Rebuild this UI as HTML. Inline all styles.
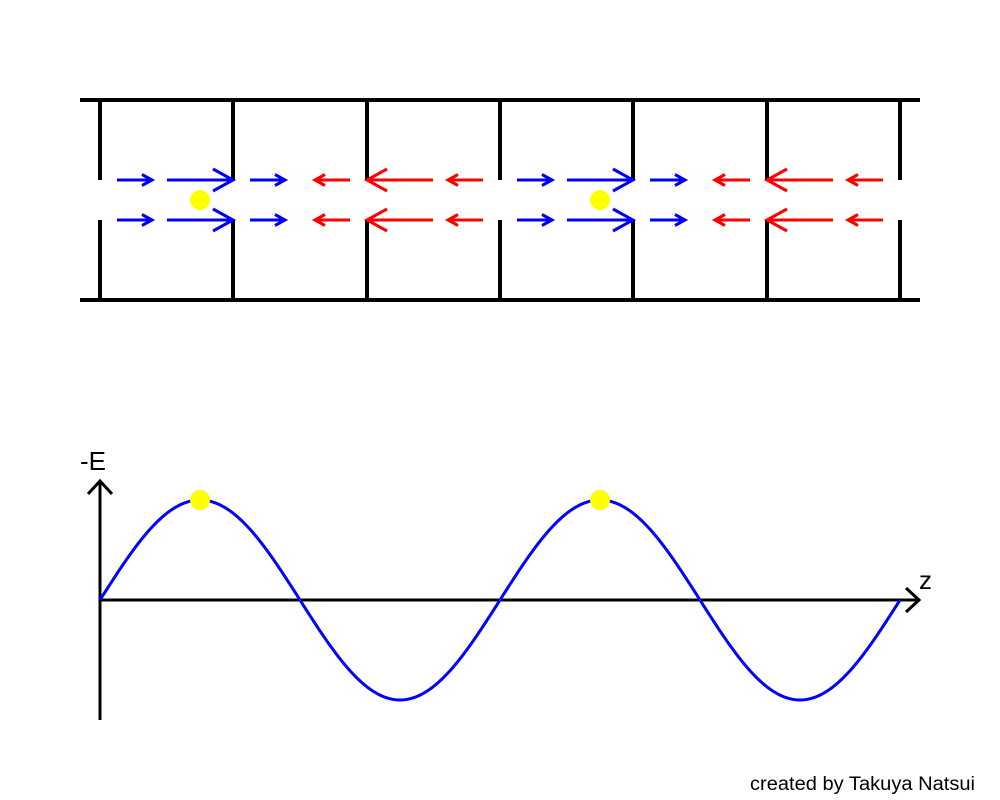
<!DOCTYPE html>
<html><head><meta charset="utf-8"><style>html,body{margin:0;padding:0;background:#fff}svg{display:block}</style></head>
<body>
<svg id="s" width="1000" height="800" xmlns="http://www.w3.org/2000/svg" font-family="Liberation Sans, sans-serif">
<g stroke="#000" stroke-width="4" fill="none">
<line x1="80" y1="100" x2="920" y2="100"/>
<line x1="80" y1="300" x2="920" y2="300"/>
<g id="walls"></g>
</g>
<g id="arrows" stroke-width="3" fill="none"></g>
<circle cx="200" cy="200" r="10" fill="#ffff00"/>
<circle cx="600" cy="200" r="10" fill="#ffff00"/>
<g stroke="#000" stroke-width="3" fill="none">
<line x1="100" y1="720" x2="100" y2="482"/>
<polyline points="88,494 100,481 112,494"/>
<line x1="100" y1="600" x2="918" y2="600"/>
<polyline points="906,588 919,600 906,612"/>
</g>
<path id="sine" stroke="#0000ff" stroke-width="3" fill="none"/>
<circle cx="200" cy="500" r="10" fill="#ffff00"/>
<circle cx="600" cy="500" r="10" fill="#ffff00"/>
<text x="80" y="470" font-size="26">-E</text>
<text x="919" y="589" font-size="26">z</text>
<text x="750" y="790" font-size="19" textLength="225" lengthAdjust="spacingAndGlyphs">created by Takuya Natsui</text>
</svg>
<script>
var NS="http://www.w3.org/2000/svg";
function el(p,t,a){var e=document.createElementNS(NS,t);for(var k in a)e.setAttribute(k,a[k]);p.appendChild(e);return e;}
var w=document.getElementById("walls");
[100,233,367,500,633,767,900].forEach(function(x){
el(w,"line",{x1:x,y1:98,x2:x,y2:180});el(w,"line",{x1:x,y1:220,x2:x,y2:302});});
var g=document.getElementById("arrows");
function arrow(x1,x2,y,c,h){
el(g,"line",{x1:x1,y1:y,x2:x2,y2:y,stroke:c});
var d=x2>x1?-1:1;
el(g,"polyline",{points:(x2+d*h)+","+(y-h*0.55)+" "+x2+","+y+" "+(x2+d*h)+","+(y+h*0.55),stroke:c});}
[0,400].forEach(function(o){[180,220].forEach(function(y){
arrow(117+o,152+o,y,"#0000ff",10);
arrow(167+o,233+o,y,"#0000ff",20);
arrow(250+o,285+o,y,"#0000ff",10);
arrow(350+o,315+o,y,"#ff0000",10);
arrow(433+o,367+o,y,"#ff0000",20);
arrow(483+o,448+o,y,"#ff0000",10);
});});
var d="";for(var x=100;x<=900;x+=2){var y=600-100*Math.sin((x-100)/400*2*Math.PI);d+=(x==100?"M":"L")+x+","+y.toFixed(2);}
document.getElementById("sine").setAttribute("d",d);
</script>
</body></html>
